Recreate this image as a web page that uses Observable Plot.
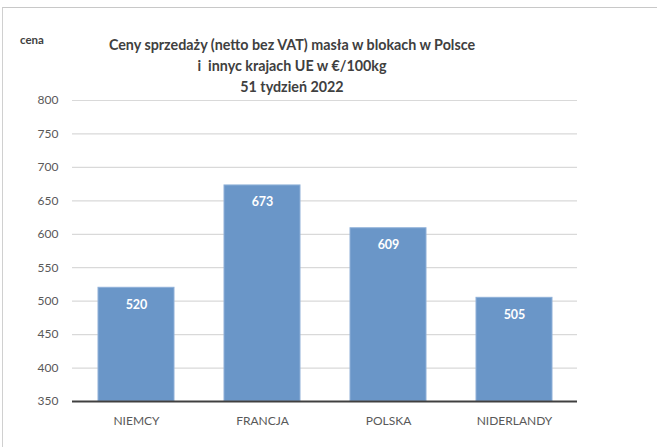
<!DOCTYPE html>
<html>
<head>
<meta charset="utf-8">
<script src="https://cdn.jsdelivr.net/npm/d3@7"></script>
<script src="https://cdn.jsdelivr.net/npm/@observablehq/plot@0.6"></script>
<style>
  html, body { margin: 0; padding: 0; background: #fff; }
  #wrap { position: relative; width: 657px; height: 447px; overflow: hidden; font-family: Lato, "Open Sans", sans-serif; }
  #frame { position: absolute; left: 2px; top: 7px; width: 700px; height: 500px; border-left: 1.5px solid #d0d0d0; border-top: 1.5px solid #c8c8c8; }
  #ylabel { position: absolute; left: 20px; top: 33px; font-size: 11.5px; font-weight: bold; color: #404040; }
  #title { position: absolute; left: 90px; width: 404px; top: 34px; text-align: center; font-size: 14.3px; font-weight: bold; color: #404040; line-height: 21px; }
  #chart { position: absolute; left: 0; top: 0; }
</style>
</head>
<body>
<div id="wrap">
  <div id="frame"></div>
  <div id="chart"></div>
  <div id="ylabel">cena</div>
  <div id="title"></div>
</div>
<script>
const categories = ["NIEMCY", "FRANCJA", "POLSKA", "NIDERLANDY"];
const prices = [520, 673, 609, 505];
const yTicks = [350, 400, 450, 500, 550, 600, 650, 700, 750, 800];
const titleLines = ["Ceny sprzedaży (netto bez VAT) masła w blokach w Polsce", "i  innyc krajach UE w €/100kg", "51 tydzień 2022"];

document.getElementById("title").innerHTML = titleLines.map(t => t.replace(/  /g, " &nbsp;")).join("<br>");

const data = categories.map((c, i) => ({country: c, price: prices[i]}));

const chart = Plot.plot({
  width: 657,
  height: 447,
  marginLeft: 72,
  marginRight: 80,
  marginTop: 100,
  marginBottom: 46,
  style: {fontFamily: "Lato, 'Open Sans', sans-serif", fontSize: "12px", color: "#595959", background: "transparent"},
  x: {domain: categories, paddingInner: 0.4, paddingOuter: 0.2, label: null, tickSize: 0, tickPadding: 15},
  y: {domain: [350, 800], ticks: yTicks, label: null, tickSize: 0, tickPadding: 14},
  marks: [
    Plot.gridY(yTicks, {stroke: "#d9d9d9", strokeOpacity: 1, strokeWidth: 1.2}),
    Plot.barY(data, {x: "country", y1: 350, y2: "price", fill: "#6a96c8", stroke: "#8fb0d8", strokeWidth: 1}),
    Plot.ruleY([350], {stroke: "#404040", strokeWidth: 2}),
    Plot.text(data, {x: "country", y: "price", text: d => String(d.price), dy: 17, fill: "white", fontWeight: "bold", fontSize: 12.5})
  ]
});
document.getElementById("chart").appendChild(chart);
</script>
</body>
</html>
